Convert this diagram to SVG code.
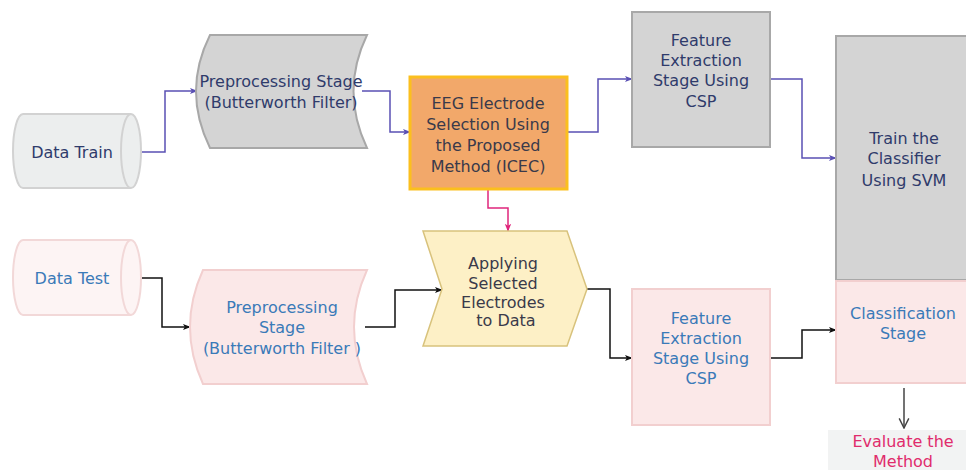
<svg xmlns="http://www.w3.org/2000/svg" width="966" height="470" viewBox="0 0 966 470">
  <style>
    text { font-family: "DejaVu Sans", Verdana, sans-serif; font-size: 16px; text-anchor: middle; }
    .navy { fill: #2f3b6b; }
    .blue { fill: #3a7ab8; }
    .dark { fill: #3a3a4a; }
    .grayNode { fill: #d4d4d4; stroke: #a8a8a8; stroke-width: 2; }
    .pinkNode { fill: #fbe8e8; stroke: #f2cfcf; stroke-width: 2; }
    .conn { fill: none; stroke-width: 1.5; }
    .purple { stroke: #5a50b4; }
    .black { stroke: #111; }
    .magenta { stroke: #e0267c; }
  </style>
  <defs>
    <marker id="arrPurple" viewBox="0 0 10 10" refX="9" refY="5" markerWidth="8" markerHeight="8" markerUnits="userSpaceOnUse" orient="auto">
      <path d="M0,1 L10,5 L0,9 L2.5,5 Z" fill="#5a50b4"/>
    </marker>
    <marker id="arrBlack" viewBox="0 0 10 10" refX="9" refY="5" markerWidth="8" markerHeight="8" markerUnits="userSpaceOnUse" orient="auto">
      <path d="M0,1 L10,5 L0,9 L2.5,5 Z" fill="#111"/>
    </marker>
    <marker id="arrMagenta" viewBox="0 0 10 10" refX="9" refY="5" markerWidth="8" markerHeight="8" markerUnits="userSpaceOnUse" orient="auto">
      <path d="M0,1 L10,5 L0,9 L2.5,5 Z" fill="#e0267c"/>
    </marker>
    <marker id="arrOpen" viewBox="0 0 10 10" refX="9" refY="5" markerWidth="12" markerHeight="12" markerUnits="userSpaceOnUse" orient="auto">
      <path d="M1,1 L9,5 L1,9" fill="none" stroke="#444" stroke-width="1.2"/>
    </marker>
  </defs>

  <!-- connectors -->
  <g id="connectors">
    <path class="conn purple" d="M133,152 H165 V91 H197" marker-end="url(#arrPurple)"/>
    <path class="conn purple" d="M362,91 H390 V132 H410" marker-end="url(#arrPurple)"/>
    <path class="conn purple" d="M567,132 H598 V79 H632" marker-end="url(#arrPurple)"/>
    <path class="conn purple" d="M770,79 H802 V158 H836" marker-end="url(#arrPurple)"/>
    <path class="conn magenta" d="M488,190 V208 H508 V231" marker-end="url(#arrMagenta)"/>
    <path class="conn black" d="M133,278 H162 V327 H190" marker-end="url(#arrBlack)"/>
    <path class="conn black" d="M365,327 H395 V290 H442" marker-end="url(#arrBlack)"/>
    <path class="conn black" d="M587,289 H610 V358 H632" marker-end="url(#arrBlack)"/>
    <path class="conn black" d="M770,358 H802 V330 H836" marker-end="url(#arrBlack)"/>
    <path class="conn" stroke="#444" d="M904,388 V428" marker-end="url(#arrOpen)"/>
  </g>

  <!-- training branch -->
  <g id="data-train">
    <path d="M23,114 H131 A10,37 0 0 1 131,188 H23 A10,37 0 0 1 23,114 Z" fill="#eceeee" stroke="#d2d2d2" stroke-width="2"/>
    <path d="M131,114 A10,37 0 0 0 131,188" fill="none" stroke="#d2d2d2" stroke-width="2"/>
    <text x="72" y="158" class="navy">Data Train</text>
  </g>

  <g id="preprocessing-train">
    <path class="grayNode" d="M210,35 H367 Q340,91 367,148 H210 Q182,91 210,35 Z"/>
    <text x="281" y="87" class="navy">Preprocessing Stage</text>
    <text x="281" y="108" class="navy">(Butterworth Filter)</text>
  </g>

  <g id="electrode-selection">
    <rect x="410" y="77" width="157" height="112" fill="#f2a86a" stroke="#fbbf1e" stroke-width="3"/>
    <text x="488" y="109" class="dark">EEG Electrode</text>
    <text x="488" y="130" class="dark">Selection Using</text>
    <text x="488" y="151" class="dark">the Proposed</text>
    <text x="488" y="172" class="dark">Method (ICEC)</text>
  </g>

  <g id="feature-extraction-train">
    <rect class="grayNode" x="632" y="12" width="138" height="135"/>
    <text x="701" y="46" class="navy">Feature</text>
    <text x="701" y="66" class="navy">Extraction</text>
    <text x="701" y="86" class="navy">Stage Using</text>
    <text x="701" y="107" class="navy">CSP</text>
  </g>

  <g id="train-classifier">
    <rect class="grayNode" x="836" y="36" width="140" height="244"/>
    <text x="904" y="144" class="navy">Train the</text>
    <text x="904" y="164" class="navy">Classifier</text>
    <text x="904" y="186" class="navy">Using SVM</text>
  </g>

  <!-- testing branch -->
  <g id="data-test">
    <path d="M23,240 H131 A10,37.5 0 0 1 131,315 H23 A10,37.5 0 0 1 23,240 Z" fill="#fdf4f4" stroke="#f2d8d8" stroke-width="2"/>
    <path d="M131,240 A10,37.5 0 0 0 131,315" fill="none" stroke="#f2d8d8" stroke-width="2"/>
    <text x="72" y="284" class="blue">Data Test</text>
  </g>

  <g id="preprocessing-test">
    <path class="pinkNode" d="M203,270 H367 Q341,327 367,384 H203 Q177,327 203,270 Z"/>
    <text x="282" y="313" class="blue">Preprocessing</text>
    <text x="282" y="333" class="blue">Stage</text>
    <text x="282" y="354" class="blue">(Butterworth Filter )</text>
  </g>

  <g id="apply-electrodes">
    <polygon points="423,231 567,231 587,289 567,346 423,346 442,289" fill="#fdf0c6" stroke="#d8c27c" stroke-width="1.5"/>
    <text x="503" y="269" class="dark">Applying</text>
    <text x="503" y="289" class="dark">Selected</text>
    <text x="503" y="308" class="dark">Electrodes</text>
    <text x="506" y="326" class="dark">to Data</text>
  </g>

  <g id="feature-extraction-test">
    <rect class="pinkNode" x="632" y="289" width="138" height="136"/>
    <text x="701" y="324" class="blue">Feature</text>
    <text x="701" y="344" class="blue">Extraction</text>
    <text x="701" y="364" class="blue">Stage Using</text>
    <text x="701" y="384" class="blue">CSP</text>
  </g>

  <g id="classification">
    <rect class="pinkNode" x="836" y="281" width="140" height="102"/>
    <text x="903" y="319" class="blue">Classification</text>
    <text x="903" y="339" class="blue">Stage</text>
  </g>

  <g id="evaluate">
    <rect x="828" y="430" width="140" height="42" fill="#f2f3f3"/>
    <text x="903" y="447" fill="#e02c6c">Evaluate the</text>
    <text x="903" y="467" fill="#e02c6c">Method</text>
  </g>
</svg>
